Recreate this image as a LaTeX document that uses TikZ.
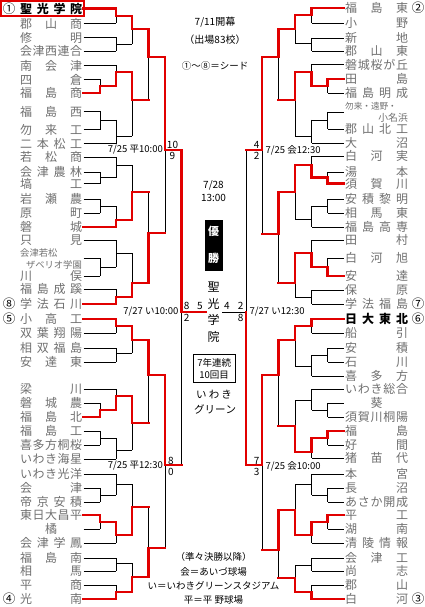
\documentclass[tikz,border=0pt]{standalone}
\usepackage{fontspec}
\setmainfont{Noto Sans CJK JP}
\pgfdeclarelayer{top}
\pgfsetlayers{main,top}
\definecolor{tg}{RGB}{112,112,112}
\definecolor{rr}{RGB}{225,0,0}
\newcommand\fs[1]{\fontsize{#1}{#1}\selectfont}
\makeatletter
\newcommand\spr[2]{\makebox[#1][s]{\def\sp@sep{}\@tfor\sp@c:=#2\do{\sp@sep\sp@c\def\sp@sep{\hfill}}}}
\makeatother
\def\lca{83.5}\def\lcb{100}\def\lcc{116}\def\lcd{132}\def\lce{148.5}\def\lcf{165}\def\lcg{181.5}
\def\rca{343.5}\def\rcb{327.5}\def\rcc{311.5}\def\rcd{295}\def\rce{278.5}\def\rcf{262}\def\rcg{246}
\tikzset{
 bk/.style={draw=black,line width=0.9pt},
 rd/.style={draw=rr,line width=2.2pt,line cap=rect},
 tn/.style={inner sep=0pt,anchor=west,text=tg,font=\fs{12}},
 sd/.style={inner sep=0pt,font=\fs{12.5}},
 lb/.style={inner sep=0pt,font=\fs{9.5}},
 sc/.style={inner sep=0pt,font=\fs{10}},
}
% match: x, xout, y1, y2, y0, winner(0 none,1 upper,2 lower)
\newcommand\mt[6]{%
 \ifcase#6\relax
  \draw[bk] (#1,#3)--(#1,#4) (#1,#5)--(#2,#5);
 \or
  \draw[bk] (#1,#5)--(#1,#4);
  \begin{pgfonlayer}{top}\draw[rd] (#1,#3)--(#1,#5)--(#2,#5);\end{pgfonlayer}
 \or
  \draw[bk] (#1,#3)--(#1,#5);
  \begin{pgfonlayer}{top}\draw[rd] (#1,#4)--(#1,#5)--(#2,#5);\end{pgfonlayer}
 \fi}
% team line: x0, x1, y, red
\newcommand\tl[4]{%
 \ifcase#4\relax
  \draw[bk] (#1,#3)--(#2,#3);
 \or
  \begin{pgfonlayer}{top}\draw[rd] (#1,#3)--(#2,#3);\end{pgfonlayer}
 \fi}
\newcommand\LT[3]{\node[tn] (#1) at (20,#2) {\spr{62pt}{#3}};}
\newcommand\RT[3]{\node[tn] (#1) at (345,#2) {\spr{63pt}{#3}};}
\begin{document}
\begin{tikzpicture}[x=1pt,y=-1pt]
\useasboundingbox (0,0) rectangle (425,607);
\fill[white] (0,0) rectangle (425,607);
% ---------- left team names ----------
\node[tn,text=black,font=\fs{12}\bfseries] (l1) at (20,8.5) {\spr{62pt}{聖光学院}};
\LT{l2}{23.5}{郡山商}
\LT{l3}{37.5}{修明}
\LT{l4}{51}{会津西連合}
\LT{l5}{65.5}{南会津}
\LT{l6}{79.5}{四倉}
\LT{l7}{93}{福島商}
\LT{l8}{111.5}{福島西}
\LT{l9}{129.5}{勿来工}
\LT{l10}{143.5}{二本松工}
\LT{l11}{157}{若松商}
\LT{l12}{172}{会津農林}
\LT{l13}{183.5}{塙工}
\LT{l14}{199}{岩瀬農}
\LT{l15}{213}{原町}
\LT{l16}{227}{磐城}
\LT{l17}{240}{只見}
\node[tn,font=\fs{9.3}] (l18a) at (20,252.5) {会津若松};
\node[tn,font=\fs{9.3},anchor=east] (l18) at (82,265) {ザベリオ学園};
\LT{l19}{276}{川俣}
\LT{l20}{289}{福島成蹊}
\LT{l21}{304}{学法石川}
\LT{l22}{319}{小高工}
\LT{l23}{333}{双葉翔陽}
\LT{l24}{348}{相双福島}
\LT{l25}{362}{安達東}
\LT{l26}{389}{梁川}
\LT{l27}{403}{磐城農}
\LT{l28}{417}{福島北}
\LT{l29}{431}{福島工}
\LT{l30}{445}{喜多方桐桜}
\LT{l31}{459}{いわき海星}
\LT{l32}{474}{いわき光洋}
\LT{l33}{488}{会津}
\LT{l34}{502}{帝京安積}
\LT{l35}{515}{東日大昌平}
\node[tn] (l36) at (20,529) {\makebox[62pt]{橘}};
\LT{l37}{543}{会津学鳳}
\LT{l38}{558}{福島南}
\LT{l39}{571}{相馬}
\LT{l40}{585}{平商}
\LT{l41}{599}{光南}
% left seeds
\node[sd] (s1) at (9,8.5) {①};
\node[sd] (s8) at (9,304) {⑧};
\node[sd] (s5) at (9,319) {⑤};
\node[sd] (s4) at (9,599) {④};
\draw[rr,line width=2pt] (1,1) rectangle (84,16);
% ---------- right team names ----------
\RT{r1}{8}{福島東}
\RT{r2}{23}{小野}
\RT{r3}{38}{新地}
\RT{r4}{51}{郡山東}
\RT{r5}{64.5}{磐城桜が丘}
\RT{r6}{79}{田島}
\RT{r7}{93}{福島明成}
\node[tn,font=\fs{8.6}] (r8a) at (345,106) {勿来・遠野・};
\node[tn,font=\fs{9.8},anchor=east] (r8) at (408,117.5) {小名浜};
\RT{r9}{129}{郡山北工}
\RT{r10}{143}{大沼}
\RT{r11}{156}{白河実}
\RT{r12}{172}{湯本}
\RT{r13}{183.5}{須賀川}
\RT{r14}{199}{安積黎明}
\RT{r15}{213}{相馬東}
\RT{r16}{227}{福島高専}
\RT{r17}{240}{田村}
\RT{r18}{258}{白河旭}
\RT{r19}{276}{安達}
\RT{r20}{290}{保原}
\RT{r21}{304}{学法福島}
\node[tn,text=black,font=\fs{12}\bfseries] (r22) at (345,319) {\spr{63pt}{日大東北}};
\RT{r23}{333}{船引}
\RT{r24}{348}{安積}
\RT{r25}{362}{石川}
\RT{r26}{376}{喜多方}
\RT{r27}{389}{いわき総合}
\node[tn] (r28) at (345,403) {\makebox[63pt]{葵}};
\RT{r29}{417}{須賀川桐陽}
\RT{r30}{431}{福島}
\RT{r31}{445}{好間}
\RT{r32}{458}{猪苗代}
\RT{r33}{474}{本宮}
\RT{r34}{488}{長沼}
\RT{r35}{502}{あさか開成}
\RT{r36}{515}{平工}
\RT{r37}{529}{湖南}
\RT{r38}{543}{清陵情報}
\RT{r39}{558}{会津工}
\RT{r40}{571}{尚志}
\RT{r41}{585}{郡山}
\RT{r42}{599}{白河}
\node[sd] (s2) at (418,8) {②};
\node[sd] (s7) at (418,304) {⑦};
\node[sd] (s6) at (418,319) {⑥};
\node[sd] (s3) at (418,599) {③};
% ---------- left team lines ----------
\tl{\lca}{\lcc}{8.5}{1}
\tl{\lca}{\lcc}{23.5}{0}
\tl{\lca}{\lcc}{37.5}{0}
\tl{\lca}{\lcc}{51}{0}
\tl{\lca}{\lcc}{65.5}{0}
\tl{\lca}{\lcb}{79.5}{0}
\tl{\lca}{\lcb}{93}{1}
\tl{\lca}{\lcb}{111.5}{0}
\tl{\lca}{\lcb}{129.5}{0}
\tl{\lca}{\lcc}{143.5}{0}
\tl{\lca}{\lcc}{157}{0}
\tl{\lca}{\lcb}{172}{0}
\tl{\lca}{\lcb}{183.5}{0}
\tl{\lca}{\lcb}{199}{0}
\tl{\lca}{\lcb}{213}{0}
\tl{\lca}{\lcc}{227}{1}
\tl{\lca}{\lcc}{240}{0}
\tl{\lca}{\lcb}{258}{0}
\tl{\lca}{\lcb}{276}{0}
\tl{\lca}{\lcc}{289}{0}
\tl{\lca}{\lcc}{304}{1}
\tl{\lca}{\lcc}{319}{1}
\tl{\lca}{\lcc}{333}{0}
\tl{\lca}{\lcc}{348}{0}
\tl{\lca}{\lcc}{362}{0}
\tl{\lca}{\lcc}{389}{0}
\tl{\lca}{\lcb}{403}{0}
\tl{\lca}{\lcb}{417}{1}
\tl{\lca}{\lcb}{431}{0}
\tl{\lca}{\lcb}{445}{0}
\tl{\lca}{\lcc}{459}{0}
\tl{\lca}{\lcc}{474}{0}
\tl{\lca}{\lcb}{488}{0}
\tl{\lca}{\lcb}{502}{0}
\tl{\lca}{\lcb}{515}{1}
\tl{\lca}{\lcb}{529}{0}
\tl{\lca}{\lcc}{543}{0}
\tl{\lca}{\lcc}{558}{0}
\tl{\lca}{\lcc}{571}{0}
\tl{\lca}{\lcc}{585}{0}
\tl{\lca}{\lcc}{599}{1}
% ---------- left matches ----------
\mt{\lcb}{\lcc}{79.5}{93}{86}{2}
\mt{\lcb}{\lcc}{111.5}{129.5}{120}{0}
\mt{\lcb}{\lcc}{172}{183.5}{177.5}{0}
\mt{\lcb}{\lcc}{199}{213}{206}{0}
\mt{\lcb}{\lcc}{258}{276}{267}{0}
\mt{\lcb}{\lcc}{403}{417}{410}{2}
\mt{\lcb}{\lcc}{431}{445}{438}{0}
\mt{\lcb}{\lcc}{488}{502}{495}{0}
\mt{\lcb}{\lcc}{515}{529}{522}{1}
\mt{\lcc}{\lcd}{8.5}{23.5}{16}{1}
\mt{\lcc}{\lcd}{37.5}{51}{44}{0}
\mt{\lcc}{\lcd}{65.5}{86}{72}{2}
\mt{\lcc}{\lcd}{120}{143.5}{136}{0}
\mt{\lcc}{\lcd}{157}{177.5}{165}{0}
\mt{\lcc}{\lcd}{206}{227}{220}{2}
\mt{\lcc}{\lcd}{240}{267}{253}{0}
\mt{\lcc}{\lcd}{289}{304}{297}{2}
\mt{\lcc}{\lcd}{319}{333}{326}{1}
\mt{\lcc}{\lcd}{348}{362}{353}{0}
\mt{\lcc}{\lcd}{389}{410}{396}{2}
\mt{\lcc}{\lcd}{438}{459}{450}{0}
\mt{\lcc}{\lcd}{474}{495}{484}{0}
\mt{\lcc}{\lcd}{522}{543}{535}{1}
\mt{\lcc}{\lcd}{558}{571}{563}{0}
\mt{\lcc}{\lcd}{585}{599}{592}{2}
\mt{\lcd}{\lce}{16}{44}{29}{1}
\mt{\lcd}{\lce}{72}{136}{100}{1}
\mt{\lcd}{\lce}{165}{220}{192}{2}
\mt{\lcd}{\lce}{253}{297}{283}{2}
\mt{\lcd}{\lce}{326}{353}{340}{1}
\mt{\lcd}{\lce}{396}{450}{423}{1}
\mt{\lcd}{\lce}{484}{535}{507}{2}
\mt{\lcd}{\lce}{563}{592}{577}{2}
\mt{\lce}{\lcf}{29}{100}{57}{1}
\mt{\lce}{\lcf}{192}{283}{233}{2}
\mt{\lce}{\lcf}{340}{423}{375}{1}
\mt{\lce}{\lcf}{507}{577}{548}{2}
\mt{\lcf}{\lcg}{57}{233}{150}{1}
\mt{\lcf}{\lcg}{375}{548}{465}{1}
\mt{\lcg}{206}{150}{465}{312}{1}
% ---------- right team lines ----------
\tl{\rca}{\rcc}{8}{1}
\tl{\rca}{\rcc}{23}{0}
\tl{\rca}{\rcc}{38}{0}
\tl{\rca}{\rcc}{51}{0}
\tl{\rca}{\rcc}{64.5}{0}
\tl{\rca}{\rcb}{79}{1}
\tl{\rca}{\rcb}{93}{0}
\tl{\rca}{\rcb}{112}{0}
\tl{\rca}{\rcb}{129}{0}
\tl{\rca}{\rcc}{143}{0}
\tl{\rca}{\rcc}{156}{0}
\tl{\rca}{\rcb}{172}{0}
\tl{\rca}{\rcb}{183.5}{1}
\tl{\rca}{\rcb}{199}{0}
\tl{\rca}{\rcb}{213}{0}
\tl{\rca}{\rcc}{227}{0}
\tl{\rca}{\rcc}{240}{0}
\tl{\rca}{\rcb}{258}{0}
\tl{\rca}{\rcb}{276}{1}
\tl{\rca}{\rcc}{290}{0}
\tl{\rca}{\rcc}{304}{0}
\tl{\rca}{\rcc}{319}{1}
\tl{\rca}{\rcc}{333}{0}
\tl{\rca}{\rcb}{348}{0}
\tl{\rca}{\rcb}{362}{0}
\tl{\rca}{\rcc}{376}{0}
\tl{\rca}{\rcc}{389}{0}
\tl{\rca}{\rcb}{403}{0}
\tl{\rca}{\rcb}{417}{0}
\tl{\rca}{\rcb}{431}{1}
\tl{\rca}{\rcb}{445}{0}
\tl{\rca}{\rcc}{458}{0}
\tl{\rca}{\rcc}{474}{0}
\tl{\rca}{\rcb}{488}{0}
\tl{\rca}{\rcb}{502}{0}
\tl{\rca}{\rcb}{515}{1}
\tl{\rca}{\rcb}{529}{0}
\tl{\rca}{\rcc}{543}{0}
\tl{\rca}{\rcc}{558}{0}
\tl{\rca}{\rcc}{571}{0}
\tl{\rca}{\rcc}{585}{0}
\tl{\rca}{\rcc}{599}{1}
% ---------- right matches ----------
\mt{\rcb}{\rcc}{79}{93}{86}{1}
\mt{\rcb}{\rcc}{112}{129}{120}{0}
\mt{\rcb}{\rcc}{172}{183.5}{177.5}{2}
\mt{\rcb}{\rcc}{199}{213}{206}{0}
\mt{\rcb}{\rcc}{258}{276}{267}{2}
\mt{\rcb}{\rcc}{348}{362}{355}{0}
\mt{\rcb}{\rcc}{403}{417}{410}{0}
\mt{\rcb}{\rcc}{431}{445}{438}{1}
\mt{\rcb}{\rcc}{488}{502}{495}{0}
\mt{\rcb}{\rcc}{515}{529}{522}{1}
\mt{\rcc}{\rcd}{8}{23}{15}{1}
\mt{\rcc}{\rcd}{38}{51}{43}{0}
\mt{\rcc}{\rcd}{64.5}{86}{72}{2}
\mt{\rcc}{\rcd}{120}{143}{136}{0}
\mt{\rcc}{\rcd}{156}{177.5}{165}{2}
\mt{\rcc}{\rcd}{206}{227}{219}{0}
\mt{\rcc}{\rcd}{240}{267}{253}{2}
\mt{\rcc}{\rcd}{290}{304}{297}{0}
\mt{\rcc}{\rcd}{319}{333}{326}{1}
\mt{\rcc}{\rcd}{355}{376}{366}{0}
\mt{\rcc}{\rcd}{389}{410}{400}{0}
\mt{\rcc}{\rcd}{438}{458}{452}{1}
\mt{\rcc}{\rcd}{474}{495}{484}{0}
\mt{\rcc}{\rcd}{522}{543}{535}{1}
\mt{\rcc}{\rcd}{558}{571}{565}{0}
\mt{\rcc}{\rcd}{585}{599}{592}{2}
\mt{\rcd}{\rce}{15}{43}{29}{1}
\mt{\rcd}{\rce}{72}{136}{100}{1}
\mt{\rcd}{\rce}{165}{219}{192}{1}
\mt{\rcd}{\rce}{253}{297}{283}{1}
\mt{\rcd}{\rce}{326}{366}{340}{1}
\mt{\rcd}{\rce}{400}{452}{426}{2}
\mt{\rcd}{\rce}{484}{535}{510}{2}
\mt{\rcd}{\rce}{565}{592}{578}{2}
\mt{\rce}{\rcf}{29}{100}{57}{1}
\mt{\rce}{\rcf}{192}{283}{234}{1}
\mt{\rce}{\rcf}{340}{426}{375}{1}
\mt{\rce}{\rcf}{510}{578}{550}{1}
\mt{\rcf}{\rcg}{57}{234}{150}{1}
\mt{\rcf}{\rcg}{375}{550}{465}{1}
\draw[bk] (\rcg,150)--(\rcg,312)--(222,312);
\begin{pgfonlayer}{top}\draw[rd] (\rcg,465)--(\rcg,312);\end{pgfonlayer}
% ---------- date labels and scores ----------
\node[lb,anchor=east] (d1) at (163,150) {7/25 平10:00};
\node[lb,anchor=east] (d2) at (178.5,312) {7/27 い10:00};
\node[lb,anchor=east] (d3) at (163,466) {7/25 平12:30};
\node[lb,anchor=west] (d4) at (265.5,150) {7/25 会12:30};
\node[lb,anchor=west] (d5) at (249.5,312) {7/27 い12:30};
\node[lb,anchor=west] (d6) at (265.5,466) {7/25 会10:00};
\node[sc] (q1a) at (172.5,144.5) {10};
\node[sc] (q1b) at (172.5,156) {9};
\node[sc] (q2a) at (171,461) {8};
\node[sc] (q2b) at (171,472) {0};
\node[sc] (q3a) at (256.7,144.5) {4};
\node[sc] (q3b) at (256.7,156) {2};
\node[sc] (q4a) at (256.7,461) {7};
\node[sc] (q4b) at (256.7,472) {3};
\node[sc] (f1) at (186.7,306) {8};
\node[sc] (f2) at (200,306) {5};
\node[sc] (f3) at (186.7,318) {2};
\node[sc] (f4) at (227,306) {4};
\node[sc] (f5) at (240.7,306) {2};
\node[sc] (f6) at (240.7,318) {8};
% ---------- centre ----------
\node[lb,font=\fs{10}] (c1) at (215,22.5) {7/11開幕};
\node[lb,font=\fs{10}] (c2) at (215,40) {（出場83校）};
\node[lb,font=\fs{9.5}] (c3) at (215,66) {①～⑧＝シード};
\node[lb,font=\fs{10}] (c4) at (213.5,185) {7/28};
\node[lb,font=\fs{10}] (c5) at (213.5,197.5) {13:00};
\fill[black] (205,220) rectangle (222.5,270.5);
\node[inner sep=0pt,text=white,font=\fs{11}\bfseries] (c6) at (213.7,231.5) {優};
\node[inner sep=0pt,text=white,font=\fs{11}\bfseries] (c7) at (213.7,258) {勝};
\node[inner sep=0pt,font=\fs{12}] (w1) at (213.5,287) {聖};
\node[inner sep=0pt,font=\fs{12}] (w2) at (213.5,303.5) {光};
\node[inner sep=0pt,font=\fs{12}] (w3) at (213.5,320) {学};
\node[inner sep=0pt,font=\fs{12}] (w4) at (213.5,337) {院};
\draw[black,line width=0.9pt] (193.5,354) rectangle (235,382.5);
\node[lb] (c8) at (214.2,362.7) {7年連続};
\node[lb] (c9) at (214.2,375) {10回目};
\node[inner sep=0pt,font=\fs{10.5}] (c10) at (214,395) {\spr{36pt}{いわき}};
\node[inner sep=0pt,font=\fs{10.5}] (c11) at (214,409.5) {\spr{40pt}{グリーン}};
\node[lb] (c12) at (213.5,557) {（準々決勝以降）};
\node[lb] (c13) at (213.5,571.5) {会＝あいづ球場};
\node[lb] (c14) at (213.5,585.5) {い＝いわきグリーンスタジアム};
\node[lb] (c15) at (213.5,600) {平＝平 野球場};
\end{tikzpicture}
\end{document}
